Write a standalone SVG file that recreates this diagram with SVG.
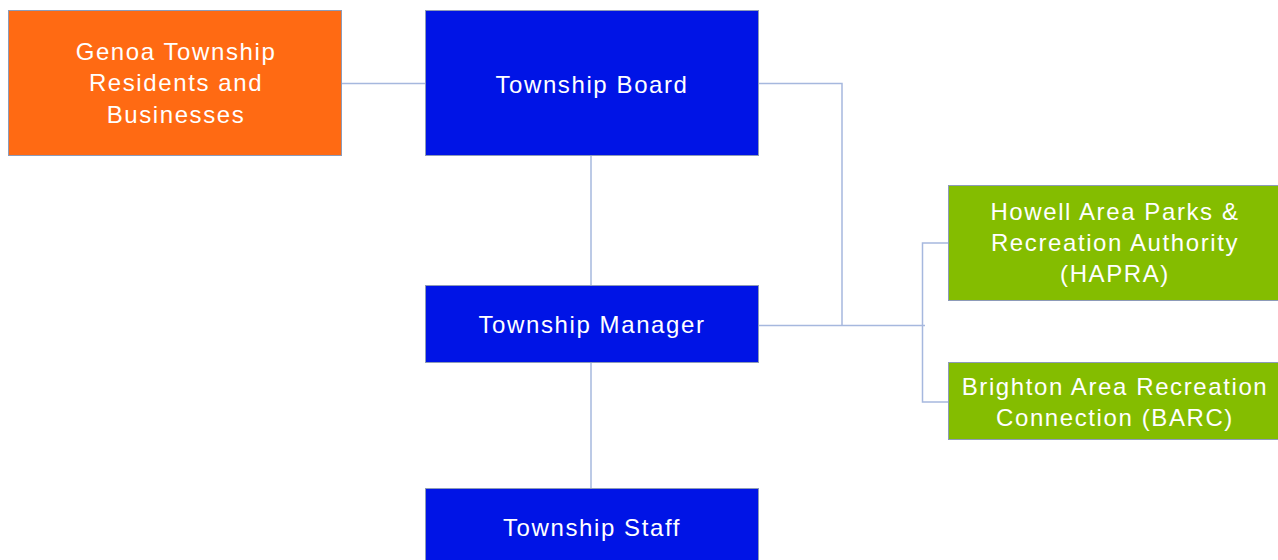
<svg xmlns="http://www.w3.org/2000/svg" width="1278" height="560" viewBox="0 0 1278 560">
<style>
.box{stroke:#8d9bb8;stroke-width:1}
.o{fill:#ff6a13}
.b{fill:#0014e6}
.g{fill:#84bd00}
.t{font-family:"Liberation Sans",Arial,sans-serif;font-size:24px;letter-spacing:1.6px;fill:#ffffff;text-anchor:middle}
.c{fill:none;stroke:#a6b8de;stroke-width:1.5}
</style>
<rect width="1278" height="560" fill="#ffffff"/>
<g id="connectors">
<path class="c" d="M342 83.5H425"/>
<path class="c" d="M591 156V285"/>
<path class="c" d="M591 362V488"/>
<path class="c" d="M759 83.5H842V325.5"/>
<path class="c" d="M759 325.5H925"/>
<path class="c" d="M948 243H922.5V402H948"/>
</g>
<g id="residents">
<rect class="box o" x="8.5" y="10.5" width="333" height="145"/>
<text class="t" x="176" y="60">Genoa Township</text>
<text class="t" x="176" y="91">Residents and</text>
<text class="t" x="176" y="123">Businesses</text>
</g>
<g id="board">
<rect class="box b" x="425.5" y="10.5" width="333" height="145"/>
<text class="t" x="592" y="93">Township Board</text>
</g>
<g id="manager">
<rect class="box b" x="425.5" y="285.5" width="333" height="77"/>
<text class="t" x="592" y="333">Township Manager</text>
</g>
<g id="staff">
<rect class="box b" x="425.5" y="488.5" width="333" height="80"/>
<text class="t" x="592" y="536">Township Staff</text>
</g>
<g id="hapra">
<rect class="box g" x="948.5" y="185.5" width="340" height="115"/>
<text class="t" x="1115" y="220">Howell Area Parks &amp;</text>
<text class="t" x="1115" y="251">Recreation Authority</text>
<text class="t" x="1115" y="282">(HAPRA)</text>
</g>
<g id="barc">
<rect class="box g" x="948.5" y="362.5" width="340" height="77"/>
<text class="t" x="1115" y="395">Brighton Area Recreation</text>
<text class="t" x="1115" y="426">Connection (BARC)</text>
</g>
</svg>
